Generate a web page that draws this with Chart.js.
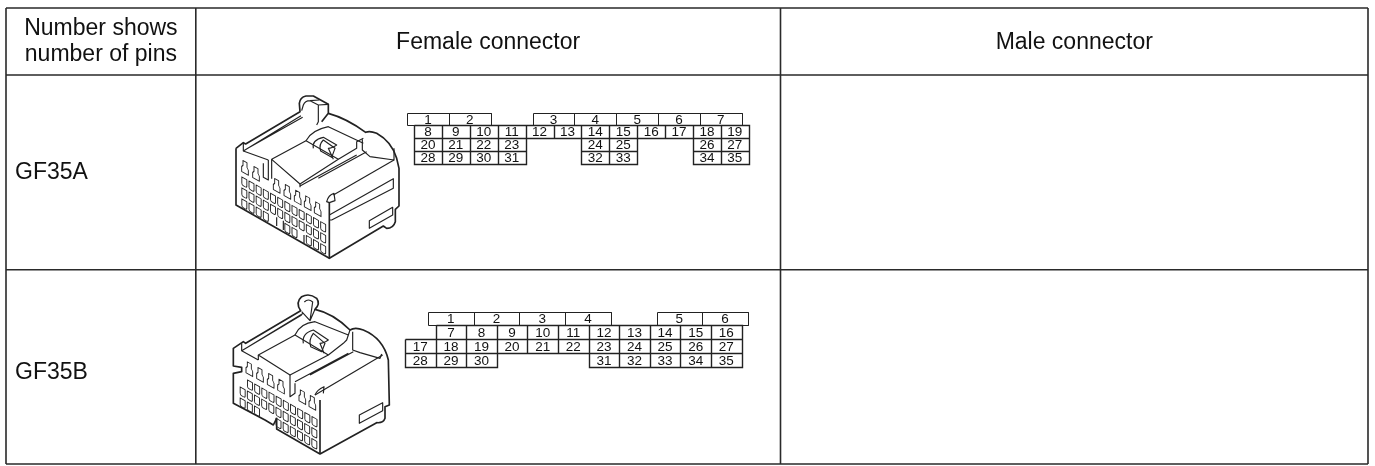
<!DOCTYPE html>
<html>
<head>
<meta charset="utf-8">
<title>Connector table</title>
<script src="https://cdn.jsdelivr.net/npm/chart.js@4"></script>
<style>
  html, body { margin: 0; padding: 0; background: #fff; }
  canvas { display: block; }
</style>
</head>
<body>
<canvas id="table-chart" width="1375" height="466"></canvas>
<script>
'use strict';

// ── Data ────────────────────────────────────────────────
const headerLabels = ['Number shows\nnumber of pins', 'Female connector', 'Male connector'];
const connectorNames = ['GF35A', 'GF35B'];

const gf35aTop  = ['1', '2', null, '3', '4', '5', '6', '7'];
const gf35aRow1 = ['8', '9', '10', '11', '12', '13', '14', '15', '16', '17', '18', '19'];
const gf35aRow2 = ['20', '21', '22', '23', null, null, '24', '25', null, null, '26', '27'];
const gf35aRow3 = ['28', '29', '30', '31', null, null, '32', '33', null, null, '34', '35'];

const gf35bTop  = ['1', '2', '3', '4', null, '5', '6'];
const gf35bRow1 = [null, '7', '8', '9', '10', '11', '12', '13', '14', '15', '16'];
const gf35bRow2 = ['17', '18', '19', '20', '21', '22', '23', '24', '25', '26', '27'];
const gf35bRow3 = ['28', '29', '30', null, null, null, '31', '32', '33', '34', '35'];

// ── Layout (page pixels) ────────────────────────────────
const colEdges = [6, 195.8, 780.5, 1368];
const rowEdges = [8, 75, 269.7, 464];

const pinGrids = [
  { y: [113, 125], x0: 407, pitch: 41.85, rows: [gf35aTop], thin: true },
  { y: [125, 138, 151, 164], x0: 414, pitch: 27.9, rows: [gf35aRow1, gf35aRow2, gf35aRow3] },
  { y: [312, 325], x0: 428, pitch: 45.7, rows: [gf35bTop], thin: true },
  { y: [325, 339, 353, 367], x0: 405, pitch: 30.6, rows: [gf35bRow1, gf35bRow2, gf35bRow3] },
];

// ── Connector line art, 3x local units ──────────────────
const drawingA = {
  ox: 200, oy: 80,
  heavy: [
    'M108 205 L130 188 L137 192 L300 95 L298 70 Q300 52 318 48 L340 48 L385 73 L385 100 L365 125',
    'M385 100 Q440 115 497 157 Q510 152 530 160 Q575 185 590 235 L597 265 L597 378 L586 388 L586 425 Q580 445 560 445 L550 438 L388 535 L108 375 L108 205',
    'M388 368 L388 535',
  ],
  light: [
    'M130 188 L130 213 L205 240',
    'M130 213 L303 107 M150 201 L308 112',
    'M305 92 L310 75 Q315 62 330 62 L355 75 L355 125 L350 135 M330 62 L358 60 M355 75 L385 73',
    'M215 238 L318 182 L415 238 L300 312 Z',
    'M205 240 L205 300 L190 292 L190 250 M215 238 L215 296 M300 312 L300 322',
    'M318 182 Q335 150 385 140 L490 190',
    'M340 205 Q335 180 370 172 L410 195 Q395 205 385 205 L400 238',
    'M362 213 Q355 195 370 180 L405 205 L395 232 Z',
    'M415 238 L470 205 L470 185 L490 175',
    'M300 318 L470 225 M355 295 L500 215',
    'M487 178 L487 210 L510 230 L582 240 L582 205',
    'M400 345 L582 240',
    'M380 365 Q385 345 402 340 L405 362 L388 368 Z',
    'M388 405 L580 296 L580 325 L395 420 L388 420',
    'M508 422 L578 382 L578 405 L508 445 Z',
    'M250 450 L250 422 M230 438 L230 412 M312 490 L312 465',
  ],
  houses: [[135, 262], [168, 280], [230, 316], [262, 334], [293, 351], [323, 368], [353, 386]],
  cells: [
    { x: 133, y: 307, count: 12, skip: [] },
    { x: 133, y: 340, count: 12, skip: [] },
    { x: 133, y: 373, count: 12, skip: [4, 5, 8] },
  ],
};

const drawingB = {
  ox: 200, oy: 280,
  heavy: [
    'M100 205 L130 185 L137 190 L302 92 Q285 68 305 50 Q328 38 350 55 Q362 72 345 88 Q400 100 450 150 Q465 140 490 150 Q550 175 565 240 L568 375 L555 380 L555 415 Q550 430 530 428 L360 522 L230 447 L230 415 L220 435 L195 420 L100 370 L100 280 L125 275 L125 262 L100 258 Z',
    'M360 360 L360 522',
  ],
  light: [
    'M125 190 L125 212 L175 240',
    'M125 212 L305 105 M145 200 L310 100',
    'M313 66 Q325 54 338 66 L330 122 L305 95 M345 88 L330 122',
    'M175 225 L285 165 L385 225 L270 285 Z',
    'M175 225 L175 240 M270 285 L270 350 L285 340 L285 310',
    'M285 165 Q300 130 345 125 L445 165',
    'M310 190 Q305 160 340 150 L385 180 Q370 190 360 190 L372 220',
    'M332 200 Q325 180 340 160 L375 190 L365 215 Z',
    'M385 225 L430 190 L440 180 L445 165 L450 150',
    'M285 305 L445 220 M330 285 L460 215',
    'M458 155 L458 210 L480 218 L540 235 L545 222',
    'M345 345 L548 225',
    'M345 345 Q350 330 372 320 L370 340',
    'M478 405 L548 368 L548 392 L478 430 Z',
  ],
  houses: [[148, 266], [180, 283], [212, 301], [243, 318], [307, 350], [337, 367]],
  cells: [
    { x: 150, y: 316, count: 10, skip: [] },
    { x: 128, y: 337, count: 11, skip: [] },
    { x: 128, y: 370, count: 11, skip: [3, 4] },
  ],
};

const housePath = new Path2D('M-10 18 L-10 3 L-6 -3 L-6 -17 L6 -17 L6 -3 L10 3 L10 18 Z');
const cellPath  = new Path2D('M-7.5 -12 L7.5 -12 L7.5 7 Q7.5 12 3 12 L-3 12 Q-7.5 12 -7.5 7 Z');

// ── Chart data ──────────────────────────────────────────
function boxPoints(x0, x1, y0, y1) {
  return [
    { x: x0, y: y0 }, { x: x1, y: y0 }, { x: x1, y: y1 }, { x: x0, y: y1 }, { x: x0, y: y0 },
    { x: x0, y: null },
  ];
}

function tableRules() {
  const pts = [];
  const xEnd = colEdges[colEdges.length - 1], yEnd = rowEdges[rowEdges.length - 1];
  rowEdges.forEach(y => pts.push({ x: colEdges[0], y }, { x: xEnd, y }, { x: xEnd, y: null }));
  colEdges.forEach(x => pts.push({ x, y: rowEdges[0] }, { x, y: yEnd }, { x, y: null }));
  return pts;
}

function gridBoxes(grid) {
  const pts = [];
  grid.rows.forEach((row, r) => {
    row.forEach((label, c) => {
      if (label === null) return;
      const x0 = Math.round(grid.x0 + c * grid.pitch) + 0.5;
      const x1 = Math.round(grid.x0 + (c + 1) * grid.pitch) + 0.5;
      pts.push(...boxPoints(x0, x1, grid.y[r] + 0.5, grid.y[r + 1] + 0.5));
    });
  });
  return pts;
}

function lineDataset(data, color, width) {
  return { data, borderColor: color, borderWidth: width, showLine: true, pointRadius: 0, spanGaps: false, tension: 0 };
}

// ── Text and line art plugin ────────────────────────────
const tablePlugin = {
  id: 'tablePlugin',
  afterDatasetsDraw(chart) {
    const { ctx, scales } = chart;
    const px = v => scales.x.getPixelForValue(v);
    const py = v => scales.y.getPixelForValue(v);

    ctx.save();
    ctx.fillStyle = '#111';
    ctx.textBaseline = 'middle';

    // table text
    ctx.font = '23px "Liberation Sans"';
    ctx.textAlign = 'center';
    headerLabels[0].split('\n').forEach((line, i) => {
      ctx.fillText(line, px((colEdges[0] + colEdges[1]) / 2), py(28.5 + i * 26));
    });
    ctx.fillText(headerLabels[1], px((colEdges[1] + colEdges[2]) / 2), py(42.5));
    ctx.fillText(headerLabels[2], px((colEdges[2] + colEdges[3]) / 2), py(42.5));
    ctx.textAlign = 'left';
    connectorNames.forEach((name, i) => {
      ctx.fillText(name, px(15), py(i === 0 ? 172.5 : 372.5));
    });

    // pin numbers
    ctx.font = '13.5px "Liberation Sans"';
    ctx.textAlign = 'center';
    pinGrids.forEach(grid => {
      grid.rows.forEach((row, r) => {
        row.forEach((label, c) => {
          if (label === null) return;
          ctx.fillText(label, px(grid.x0 + (c + 0.5) * grid.pitch), py((grid.y[r] + grid.y[r + 1]) / 2 + 1));
        });
      });
    });

    [drawingA, drawingB].forEach(d => drawConnector(ctx, d));
    ctx.restore();
  },
};

function drawConnector(ctx, d) {
  ctx.save();
  ctx.translate(d.ox, d.oy);
  ctx.scale(1 / 3, 1 / 3);
  ctx.strokeStyle = '#222';
  ctx.lineJoin = 'round';
  ctx.lineWidth = 3.5;
  d.light.forEach(p => ctx.stroke(new Path2D(p)));
  ctx.lineWidth = 5;
  d.heavy.forEach(p => ctx.stroke(new Path2D(p)));

  ctx.lineWidth = 2.8;
  d.houses.forEach(([x, y]) => {
    ctx.save();
    ctx.transform(1, 0.57, 0, 1, x, y);
    ctx.stroke(housePath);
    ctx.restore();
  });
  d.cells.forEach(row => {
    for (let i = 0; i < row.count; i++) {
      if (row.skip.includes(i)) continue;
      ctx.save();
      ctx.transform(1, 0.57, 0, 1, row.x + i * 21.5, row.y + i * 12.2);
      ctx.stroke(cellPath);
      ctx.restore();
    }
  });
  ctx.restore();
}

// ── Chart ───────────────────────────────────────────────
const datasets = [lineDataset(tableRules(), '#2a2a2a', 1.6)];
pinGrids.forEach(grid => {
  datasets.push(lineDataset(gridBoxes(grid), '#222', grid.thin ? 1 : 1.4));
});

new Chart(document.getElementById('table-chart').getContext('2d'), {
  type: 'scatter',
  data: { datasets },
  options: {
    animation: false,
    responsive: false,
    events: [],
    layout: { padding: 0 },
    plugins: { legend: { display: false }, tooltip: { enabled: false }, title: { display: false } },
    scales: {
      x: { type: 'linear', min: 0, max: 1375, display: false },
      y: { type: 'linear', min: 0, max: 466, reverse: true, display: false },
    },
  },
  plugins: [tablePlugin],
});
</script>
</body>
</html>
